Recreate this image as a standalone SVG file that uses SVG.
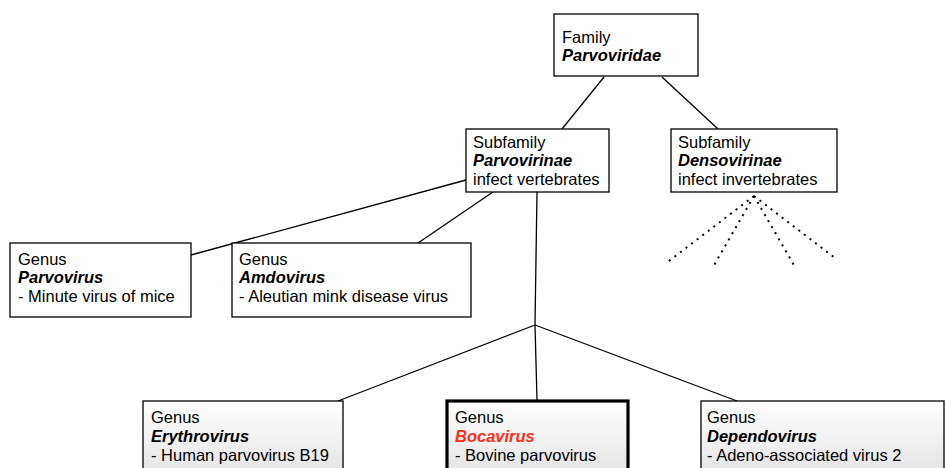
<svg xmlns="http://www.w3.org/2000/svg" width="946" height="468" viewBox="0 0 946 468">
<defs>
<linearGradient id="g" x1="0" y1="0" x2="0" y2="1">
<stop offset="0" stop-color="#ffffff"/>
<stop offset="1" stop-color="#e2e2e2"/>
</linearGradient>
<style>
.b{fill:#fff;stroke:#000;stroke-width:1.3}
.gb{fill:url(#g);stroke:#000;stroke-width:1.3}
.thick{stroke-width:3.2}
.t{font-family:"Liberation Sans",Arial,sans-serif;font-size:16.5px;fill:#000}
.i{font-weight:bold;font-style:italic}
.red{fill:#ff2d1a}
.c{stroke:#000;stroke-width:1.3;fill:none}
.d{stroke:#000;stroke-width:2;fill:none;stroke-dasharray:2 5}
</style>
</defs>
<rect width="946" height="468" fill="#fff"/>
<g id="connectors">
<line class="c" x1="604" y1="77" x2="562" y2="129"/>
<line class="c" x1="662" y1="77" x2="718" y2="129"/>
<line class="c" x1="466" y1="180" x2="191" y2="255"/>
<line class="c" x1="493" y1="192" x2="418" y2="243"/>
<polyline class="c" points="537,192 535,325 537,400"/>
<line class="c" x1="535" y1="325" x2="338" y2="401"/>
<line class="c" x1="535" y1="325" x2="737" y2="401"/>
<line class="d" x1="754" y1="196" x2="665" y2="264"/>
<line class="d" x1="754" y1="196" x2="713" y2="267"/>
<line class="d" x1="754" y1="196" x2="795" y2="267"/>
<line class="d" x1="754" y1="196" x2="835" y2="258"/>
</g>
<g id="family">
<rect class="b" x="554" y="14" width="144" height="62"/>
<text class="t" x="562" y="43">Family</text>
<text class="t i" x="562" y="61">Parvoviridae</text>
</g>
<g id="parvovirinae">
<rect class="b" x="466" y="129" width="143" height="63"/>
<text class="t" x="473" y="148">Subfamily</text>
<text class="t i" x="473" y="166">Parvovirinae</text>
<text class="t" x="473" y="185">infect vertebrates</text>
</g>
<g id="densovirinae">
<rect class="b" x="671" y="129" width="166" height="63"/>
<text class="t" x="678" y="148">Subfamily</text>
<text class="t i" x="678" y="166">Densovirinae</text>
<text class="t" x="678" y="185">infect invertebrates</text>
</g>
<g id="parvovirus">
<rect class="b" x="10" y="243" width="181" height="74"/>
<text class="t" x="18" y="265">Genus</text>
<text class="t i" x="18" y="283">Parvovirus</text>
<text class="t" x="18" y="302">- Minute virus of mice</text>
</g>
<g id="amdovirus">
<rect class="b" x="232" y="243" width="239" height="74"/>
<text class="t" x="239" y="265">Genus</text>
<text class="t i" x="239" y="283">Amdovirus</text>
<text class="t" x="239" y="302">- Aleutian mink disease virus</text>
</g>
<g id="erythrovirus">
<rect class="gb" x="143" y="401" width="200" height="80"/>
<text class="t" x="151" y="423">Genus</text>
<text class="t i" x="151" y="442">Erythrovirus</text>
<text class="t" x="151" y="461">- Human parvovirus B19</text>
</g>
<g id="bocavirus">
<rect class="gb thick" x="447" y="401" width="181" height="80"/>
<text class="t" x="455" y="423">Genus</text>
<text class="t i red" x="455" y="442">Bocavirus</text>
<text class="t" x="455" y="461">- Bovine parvovirus</text>
</g>
<g id="dependovirus">
<rect class="gb" x="701" y="401" width="243" height="80"/>
<text class="t" x="707" y="423">Genus</text>
<text class="t i" x="707" y="442">Dependovirus</text>
<text class="t" x="707" y="461">- Adeno-associated virus 2</text>
</g>
</svg>
